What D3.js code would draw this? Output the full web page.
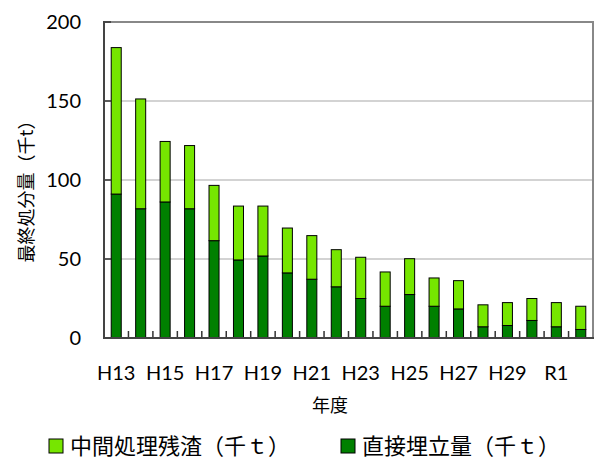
<!DOCTYPE html>
<html><head><meta charset="utf-8">
<script src="https://cdn.jsdelivr.net/npm/d3@7"></script>
<style>body{margin:0;background:#fff}svg{display:block}</style>
</head><body>
<svg id="c" width="597" height="459"></svg>
<script>
const categories = ["H13","H14","H15","H16","H17","H18","H19","H20","H21","H22","H23","H24","H25","H26","H27","H28","H29","H30","R1","R2"];
const directLandfill = [91.1,81.8,86.1,81.8,61.6,49.4,51.9,41.2,37.2,32.4,25.0,20.1,27.5,20.1,18.4,7.1,7.9,11.1,7.1,5.4];
const residue = [92.7,69.5,38.3,40.0,35.0,34.1,31.6,28.4,27.6,23.5,26.1,21.7,22.7,17.9,17.9,13.9,14.5,13.9,15.3,14.7];
const yTicks = [0,50,100,150,200];
const xLabelCats = ["H13","H15","H17","H19","H21","H23","H25","H27","H29","R1"];
const seriesNames = ["中間処理残渣（千ｔ）","直接埋立量（千ｔ）"];
const colors = {residue:"#76e600", direct:"#008000"};

const svg = d3.select("#c");
const L=104, R=593, T=22, B=338;
const x = d3.scaleBand().domain(categories).range([L,R]).paddingInner(0.59).paddingOuter(0.295);
const y = d3.scaleLinear().domain([0,200]).range([B,T]);
const step = x.step(), bw = x.bandwidth();

// gridlines
svg.append("g").selectAll("line").data(yTicks.filter(d=>d>0 && d<200)).join("line")
  .attr("x1",L).attr("x2",R).attr("y1",d=>y(d)).attr("y2",d=>y(d))
  .attr("stroke","#c4c4c4").attr("stroke-width",1.5);

// plot border top/right
svg.append("line").attr("x1",L).attr("x2",R+1).attr("y1",T).attr("y2",T).attr("stroke","#888").attr("stroke-width",2);
svg.append("line").attr("x1",R).attr("x2",R).attr("y1",T).attr("y2",B).attr("stroke","#888").attr("stroke-width",2);

const data = categories.map((c,i)=>({c, d:directLandfill[i], r:residue[i]}));
const g = svg.append("g");
// direct (bottom)
g.selectAll("rect.d").data(data).join("rect").attr("class","d")
  .attr("x",d=>x(d.c)).attr("width",bw)
  .attr("y",d=>y(d.d)).attr("height",d=>y(0)-y(d.d))
  .attr("fill",colors.direct).attr("stroke","#000").attr("stroke-width",1);
// residue (top)
g.selectAll("rect.r").data(data).join("rect").attr("class","r")
  .attr("x",d=>x(d.c)).attr("width",bw)
  .attr("y",d=>y(d.d+d.r)).attr("height",d=>y(d.d)-y(d.d+d.r))
  .attr("fill",colors.residue).attr("stroke","#000").attr("stroke-width",1);

// x ticks (inside, at category boundaries)
svg.append("g").selectAll("line").data(categories.slice(1)).join("line")
  .attr("x1",d=>x(d)+bw/2-step/2).attr("x2",d=>x(d)+bw/2-step/2)
  .attr("y1",B).attr("y2",B-7).attr("stroke","#333").attr("stroke-width",1.5);
// y ticks inside
svg.append("g").selectAll("line").data(yTicks).join("line")
  .attr("x1",L).attr("x2",L+7).attr("y1",d=>y(d)).attr("y2",d=>y(d))
  .attr("stroke","#333").attr("stroke-width",1.5);

// axes lines
svg.append("line").attr("x1",L).attr("x2",L).attr("y1",T-1).attr("y2",B+1).attr("stroke","#444").attr("stroke-width",2);
svg.append("line").attr("x1",L-1).attr("x2",R+1).attr("y1",B).attr("y2",B).attr("stroke","#444").attr("stroke-width",2);

// y labels
svg.append("g").selectAll("text").data(yTicks).join("text")
  .attr("x",81).attr("y",d=>y(d)).attr("dy","0.36em").attr("text-anchor","end")
  .attr("font-family","Lato, 'Open Sans', sans-serif").attr("font-size",20).attr("fill","#000")
  .text(d=>d);

// x labels
svg.append("g").selectAll("text").data(xLabelCats).join("text")
  .attr("x",d=>x(d)+bw/2).attr("y",380).attr("text-anchor","middle")
  .attr("font-family","Lato, 'Open Sans', sans-serif").attr("font-size",20).attr("fill","#000")
  .text(d=>d);

// axis titles
svg.append("text").attr("x",330).attr("y",412).attr("text-anchor","middle")
  .attr("font-family","'Noto Sans CJK JP', sans-serif").attr("font-size",18).text("年度");
svg.append("text").attr("transform","translate(25,187) rotate(-90)").attr("text-anchor","middle")
  .attr("dominant-baseline","central")
  .attr("font-family","'Noto Sans CJK JP', sans-serif").attr("font-size",18).text("最終処分量（千t）");

// legend
const leg = [{name:seriesNames[0],color:colors.residue,x:49},{name:seriesNames[1],color:colors.direct,x:341}];
const lg = svg.append("g").selectAll("g").data(leg).join("g");
lg.append("rect").attr("x",d=>d.x).attr("y",439).attr("width",14).attr("height",14)
  .attr("fill",d=>d.color).attr("stroke","#000").attr("stroke-width",1);
lg.append("text").attr("x",d=>d.x+21).attr("y",454)
  .attr("font-family","'Noto Sans CJK JP', sans-serif").attr("font-size",22).attr("fill","#000")
  .text(d=>d.name);
</script>
</body></html>
